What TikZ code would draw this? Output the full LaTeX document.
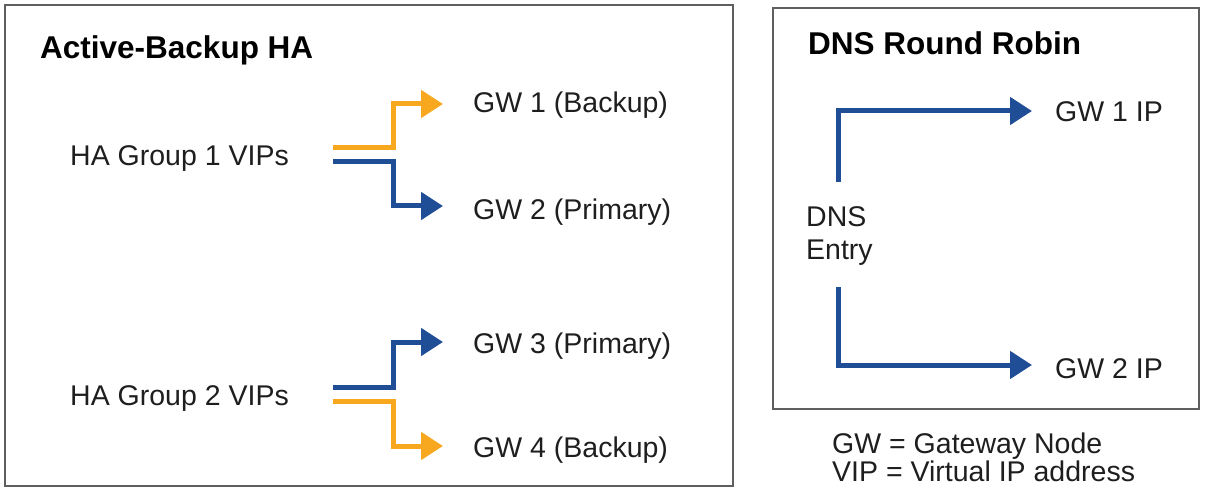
\documentclass[tikz,border=0pt]{standalone}
\usepackage{fontspec}
\setmainfont{Liberation Sans}
\usetikzlibrary{arrows.meta}
\definecolor{gwOrange}{RGB}{247,168,30}
\definecolor{gwBlue}{RGB}{32,78,150}
\definecolor{boxgray}{RGB}{95,95,95}
\definecolor{txt}{RGB}{30,30,30}
\begin{document}
\begin{tikzpicture}[x=1pt,y=-1pt,
  lbl/.style={anchor=base west, inner sep=0pt, font=\fontsize{28.5}{34}\selectfont, text=txt},
  ttl/.style={anchor=base west, inner sep=0pt, font=\fontsize{31.5}{36}\selectfont\bfseries, text=black},
  frame/.style={draw=boxgray, line width=2.5pt},
  conn/.style={line width=5pt, line join=miter, -{Triangle[length=22pt,width=27pt]}},
  orangeconn/.style={conn, draw=gwOrange},
  blueconn/.style={conn, draw=gwBlue}]
\useasboundingbox (0,0) rectangle (1205,489);
\draw[frame] (5,5) rectangle (733,486);
\draw[frame] (773,8) rectangle (1199,409);

% left panel
\node[ttl] (abtitle) at (40,59) {Active-Backup HA};
\node[lbl] (grp1) at (70,166) {HA Group 1 VIPs};
\node[lbl] (grp2) at (70,405) {HA Group 2 VIPs};
\node[lbl] (gw1) at (473,113) {GW 1 (Backup)};
\node[lbl] (gw2) at (473,220) {GW 2 (Primary)};
\node[lbl] (gw3) at (473,353) {GW 3 (Primary)};
\node[lbl] (gw4) at (473,457) {GW 4 (Backup)};

\coordinate (g1o) at (333,148);
\coordinate (g1b) at (333,162);
\coordinate (g2b) at (333,387);
\coordinate (g2o) at (333,401);
\coordinate (t1) at (443,104);
\coordinate (t2) at (443,206);
\coordinate (t3) at (443,342);
\coordinate (t4) at (443,446);

\draw[orangeconn] (g1o) -- (393,148) |- (t1);
\draw[blueconn] (g1b) -- (393,162) |- (t2);
\draw[blueconn] (g2b) -- (393,387) |- (t3);
\draw[orangeconn] (g2o) -- (393,401) |- (t4);

% right panel
\node[ttl] (dnstitle) at (808,55) {DNS Round Robin};
\node[lbl] (dns) at (806,227) {DNS};
\node[lbl] (entry) at (806,260) {Entry};
\node[lbl] (ip1) at (1055,122) {GW 1 IP};
\node[lbl] (ip2) at (1055,378) {GW 2 IP};
\coordinate (d1) at (838,182);
\coordinate (d2) at (838,287);
\coordinate (u1) at (1032,111);
\coordinate (u2) at (1032,365);
\draw[blueconn] (d1) |- (u1);
\draw[blueconn] (d2) |- (u2);

% legend
\node[lbl] (leg1) at (832,453) {GW = Gateway Node};
\node[lbl] (leg2) at (832,481) {VIP = Virtual IP address};
\end{tikzpicture}
\end{document}
